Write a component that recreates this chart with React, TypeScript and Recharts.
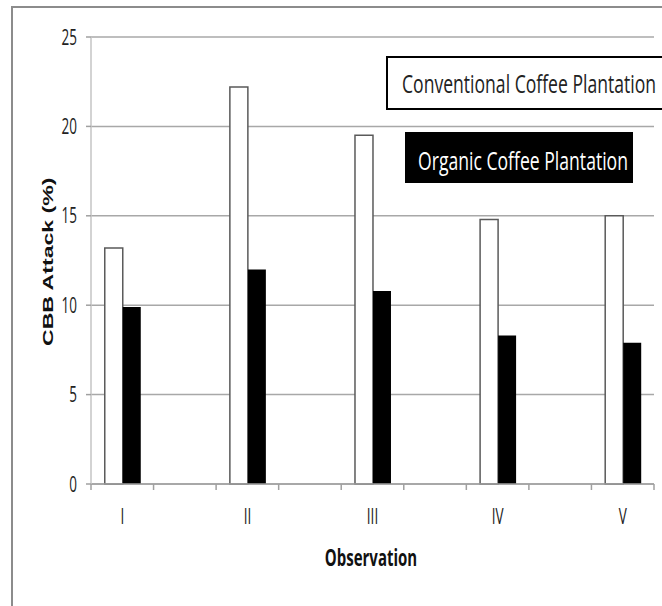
import React from "react";
import {
  BarChart,
  Bar,
  XAxis,
  YAxis,
  CartesianGrid,
  Legend,
} from "recharts";

const observations = ["I", "II", "III", "IV", "V"];
const conventional = [13.2, 22.2, 19.5, 14.8, 15.0];
const organic = [9.9, 12.0, 10.8, 8.3, 7.9];
const yTicks = [0, 5, 10, 15, 20, 25];

// Excel-style layout: an empty slot after each observation
const rows: { name: string; conventional?: number; organic?: number }[] = [];
observations.forEach((obs, i) => {
  rows.push({ name: obs, conventional: conventional[i], organic: organic[i] });
  if (i < observations.length - 1) rows.push({ name: "" });
});

const FONT = "'Open Sans', 'DejaVu Sans', sans-serif";
const STRETCH = 1.55;
const AXIS_GREY = "#a0a0a0";

const YTick = (props: any) => {
  const { x, y, payload } = props;
  return (
    <g transform={`translate(${x},${y}) scale(1,${STRETCH})`}>
      <text textAnchor="end" dy="0.36em" fontFamily={FONT} fontSize={13.5} fill="#222">
        {payload.value}
      </text>
    </g>
  );
};

// category label in the middle, tick marks on the category boundaries
const XTick = (props: any) => {
  const { x, y, payload, index, visibleTicksCount } = props;
  const half = payload.offset || 0;
  const isLast = index === visibleTicksCount - 1;
  return (
    <g>
      <line x1={x - half} x2={x - half} y1={y} y2={y + 6} stroke={AXIS_GREY} strokeWidth={1.5} />
      {isLast && (
        <line x1={x + half} x2={x + half} y1={y} y2={y + 6} stroke={AXIS_GREY} strokeWidth={1.5} />
      )}
      {payload.value ? (
        <g transform={`translate(${x},${y + 32}) scale(1,${STRETCH})`}>
          <text textAnchor="middle" dy="0.36em" fontFamily={FONT} fontSize={13.5} fill="#222">
            {payload.value}
          </text>
        </g>
      ) : null}
    </g>
  );
};

const LegendBoxes = (props: any) => {
  const items = props.payload || [];
  return (
    <svg width={277} height={135} style={{ display: "block" }}>
      {items.map((item: any, i: number) =>
        i === 0 ? (
          <g key={item.value}>
            <rect x={2} y={2} width={290} height={52} fill="#fff" stroke="#000" strokeWidth={2} />
            <g transform="translate(17,38) scale(1,1.45)">
              <text
                fontFamily={FONT}
                fontSize={17.5}
                textLength={254}
                lengthAdjust="spacingAndGlyphs"
                fill="#222"
              >
                {item.value}
              </text>
            </g>
          </g>
        ) : (
          <g key={item.value}>
            <rect x={20} y={77} width={228} height={51} fill="#000" />
            <g transform="translate(33,115) scale(1,1.45)">
              <text
                fontFamily={FONT}
                fontSize={17.5}
                textLength={210}
                lengthAdjust="spacingAndGlyphs"
                fill="#fff"
              >
                {item.value}
              </text>
            </g>
          </g>
        )
      )}
    </svg>
  );
};

export default function App() {
  return (
    <div
      style={{
        position: "absolute",
        left: 0,
        top: 0,
        width: 662,
        height: 606,
        overflow: "hidden",
        background: "#fff",
      }}
    >
      <div
        style={{
          position: "absolute",
          left: 11,
          top: 6,
          width: 700,
          height: 700,
          border: "2px solid #8c8c8c",
        }}
      />
      <div style={{ position: "absolute", left: 0, top: 0 }}>
        <BarChart
          width={662}
          height={606}
          data={rows}
          margin={{ top: 37, right: 8, bottom: 121, left: 0 }}
          barCategoryGap="22%"
          barGap={0}
        >
          <CartesianGrid vertical={false} stroke="#a8a8a8" strokeWidth={1.5} />
          <XAxis
            dataKey="name"
            height={1}
            tickSize={0}
            tickMargin={0}
            tickLine={false}
            axisLine={{ stroke: AXIS_GREY, strokeWidth: 1.5 }}
            tick={<XTick />}
            interval={0}
          />
          <YAxis
            width={91}
            domain={[0, 25]}
            ticks={yTicks}
            tickSize={5}
            tickMargin={9}
            axisLine={{ stroke: "#c4c4c4", strokeWidth: 1.5 }}
            tickLine={{ stroke: AXIS_GREY, strokeWidth: 1.5 }}
            tick={<YTick />}
          />
          <Legend
            layout="vertical"
            align="center"
            verticalAlign="middle"
            wrapperStyle={{ left: 385, top: 55, width: 277 }}
            content={<LegendBoxes />}
          />
          <Bar
            dataKey="conventional"
            name="Conventional Coffee Plantation"
            fill="#ffffff"
            stroke="#5a5a5a"
            strokeWidth={1.5}
            isAnimationActive={false}
          />
          <Bar
            dataKey="organic"
            name="Organic Coffee Plantation"
            fill="#000000"
            isAnimationActive={false}
          />
        </BarChart>
      </div>
      <svg
        width={662}
        height={606}
        style={{ position: "absolute", left: 0, top: 0, pointerEvents: "none" }}
      >
        <g transform="translate(53,346) rotate(-90) scale(1.54,1)">
          <text
            fontFamily="'Liberation Sans', Arial, sans-serif"
            fontWeight="bold"
            fontSize={15}
            fill="#111"
          >
            CBB Attack (%)
          </text>
        </g>
        <g transform="translate(371,566) scale(1,1.6)">
          <text
            textAnchor="middle"
            fontFamily={FONT}
            fontWeight="bold"
            fontSize={15}
            fill="#111"
          >
            Observation
          </text>
        </g>
      </svg>
    </div>
  );
}
